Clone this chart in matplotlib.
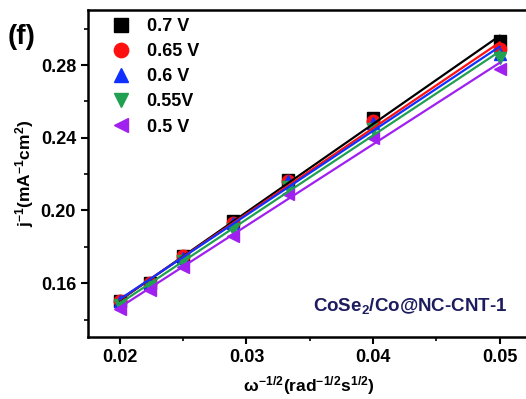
import matplotlib.pyplot as plt
import numpy as np
from matplotlib.ticker import MultipleLocator

plt.rcParams['font.family'] = ['Liberation Sans', 'DejaVu Sans']
plt.rcParams['mathtext.fontset'] = 'custom'
plt.rcParams['mathtext.rm'] = 'Liberation Sans:bold'
plt.rcParams['mathtext.it'] = 'Liberation Sans:bold'
plt.rcParams['mathtext.bf'] = 'Liberation Sans:bold'

# omega^-1/2 values (rad^-1/2 s^1/2)
x = [0.02, 0.0224, 0.025, 0.0289, 0.0333, 0.04, 0.05]

labels = ['0.7 V', '0.65 V', '0.6 V', '0.55V', '0.5 V']
y07 = [0.150, 0.160, 0.175, 0.194, 0.217, 0.251, 0.293]
y065 = [0.150, 0.160, 0.175, 0.193, 0.216, 0.249, 0.289]
y06 = [0.150, 0.160, 0.174, 0.193, 0.216, 0.248, 0.286]
y055 = [0.148, 0.158, 0.172, 0.190, 0.213, 0.245, 0.284]
y05 = [0.146, 0.156, 0.169, 0.186, 0.209, 0.240, 0.278]
series = [y07, y065, y06, y055, y05]

colors = ['#000000', '#ff1010', '#1030ff', '#20a050', '#a020f0']
markers = ['s', 'o', '^', 'v', '<']

fig = plt.figure(figsize=(5.26, 3.99), dpi=100)
ax = fig.add_axes([0.167, 0.155, 0.84, 0.82])

xa = np.array(x)
for ys, c, m, lab in zip(series, colors, markers, labels):
    ax.plot(x, ys, linestyle='none', marker=m, color=c, markersize=9, label=lab, zorder=3)
    k, b = np.polyfit(xa, ys, 1)
    ax.plot(xa[[0, -1]], k * xa[[0, -1]] + b, color=c, lw=1.6, zorder=4)

ax.set_xlim(0.01747, 0.05237)
ax.set_ylim(0.1303, 0.3103)
ax.set_xticks([0.02, 0.03, 0.04, 0.05])
ax.set_yticks([0.16, 0.20, 0.24, 0.28])
ax.xaxis.set_minor_locator(MultipleLocator(0.005))
ax.yaxis.set_minor_locator(MultipleLocator(0.02))
ax.tick_params(which='major', direction='out', length=5, width=1.5, labelsize=13)
ax.tick_params(which='minor', direction='out', length=3, width=1.2)
for lab in ax.get_xticklabels() + ax.get_yticklabels():
    lab.set_fontweight('bold')
for s in ['left', 'bottom', 'top']:
    ax.spines[s].set_linewidth(1.8)
ax.spines['right'].set_visible(False)

ax.set_ylabel(r'j$^{-1}$(mA$^{-1}$cm$^{2}$)', fontsize=12.5, fontweight='bold', labelpad=3)
ax.set_xlabel(r'$\omega^{-1/2}$(rad$^{-1/2}$s$^{1/2}$)', fontsize=12.5, fontweight='bold', labelpad=6)

leg = ax.legend(loc='upper left', bbox_to_anchor=(0.025, 1.0), frameon=False,
                handletextpad=0.7, labelspacing=0.45, borderaxespad=0.15, borderpad=0.3,
                prop={'weight': 'bold', 'size': 13}, handlelength=1.5, markerscale=1.15)

ax.text(0.95, 0.065, r'CoSe$_2$/Co@NC-CNT-1', transform=ax.transAxes, ha='right',
        va='bottom', fontsize=13.5, fontweight='bold', color='#1c1c5e')
fig.text(0.015, 0.89, '(f)', fontsize=20, fontweight='bold')

fig.savefig('out.png', dpi=100)
